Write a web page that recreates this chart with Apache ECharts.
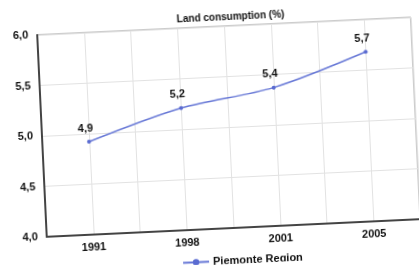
<!DOCTYPE html>
<html>
<head>
<meta charset="utf-8">
<script src="https://cdn.jsdelivr.net/npm/echarts@6/dist/echarts.min.js"></script>
<style>
html,body{margin:0;padding:0;background:#fff;overflow:hidden;}
#c{width:419px;height:265px;transform:rotate(-2.7deg);transform-origin:50% 50%;}
</style>
</head>
<body>
<div id="c"></div>
<script>
var categories = ['1991', '1998', '2001', '2005'];
var values = [4.92, 5.21, 5.37, 5.68];
var seriesName = 'Piemonte Region';
var titleText = 'Land consumption (%)';
var yTicks = [4.0, 4.5, 5.0, 5.5, 6.0];

var chart = echarts.init(document.getElementById('c'), null, {renderer: 'canvas'});
var fmt = function (v) { return v.toFixed(1).replace('.', ','); };
var FONT = 'Liberation Sans';

chart.setOption({
  backgroundColor: '#fff',
  animation: false,
  title: {
    text: titleText,
    left: 231,
    top: 8,
    textAlign: 'center',
    textStyle: {fontFamily: FONT, fontSize: 10, fontWeight: 'bold', color: '#111'}
  },
  legend: {
    data: [seriesName],
    left: 171,
    top: 251,
    itemWidth: 26,
    itemHeight: 8,
    itemGap: 4,
    textStyle: {fontFamily: FONT, fontSize: 11, fontWeight: 'bold', color: '#111', padding: [0, 0, 0, -1]}
  },
  grid: {left: 42, top: 27, width: 380, height: 202, show: true, borderColor: '#999', borderWidth: 1},
  xAxis: {
    type: 'value',
    min: -0.5,
    max: 3.5,
    interval: 0.5,
    axisLine: {show: true, onZero: false, lineStyle: {color: '#444', width: 2}},
    axisTick: {show: false},
    splitLine: {show: true, lineStyle: {color: '#e2e2e2', width: 1}},
    axisLabel: {
      margin: 7,
      fontFamily: FONT, fontSize: 11, fontWeight: 'bold', color: '#111',
      formatter: function (v) {
        return (Math.abs(v - Math.round(v)) < 1e-6 && categories[Math.round(v)]) ? categories[Math.round(v)] : '';
      }
    }
  },
  yAxis: {
    type: 'value',
    min: yTicks[0],
    max: yTicks[yTicks.length - 1],
    interval: 0.5,
    axisLine: {show: true, onZero: false, lineStyle: {color: '#444', width: 2}},
    axisTick: {show: false},
    splitLine: {show: true, lineStyle: {color: '#e2e2e2', width: 1}},
    axisLabel: {margin: 9, fontFamily: FONT, fontSize: 11, fontWeight: 'bold', color: '#111', formatter: fmt}
  },
  series: [{
    name: seriesName,
    type: 'line',
    smooth: 0.3,
    data: values.map(function (v, i) { return [i, v]; }),
    symbol: 'circle',
    symbolSize: 4,
    itemStyle: {color: '#5a6bd1'},
    lineStyle: {color: '#6677d6', width: 1.5},
    label: {
      show: true,
      position: 'top',
      distance: 6,
      offset: [-3, 0],
      fontFamily: FONT, fontSize: 11, fontWeight: 'bold', color: '#111',
      formatter: function (p) { return fmt(p.value[1]); }
    }
  }]
});
</script>
</body>
</html>
